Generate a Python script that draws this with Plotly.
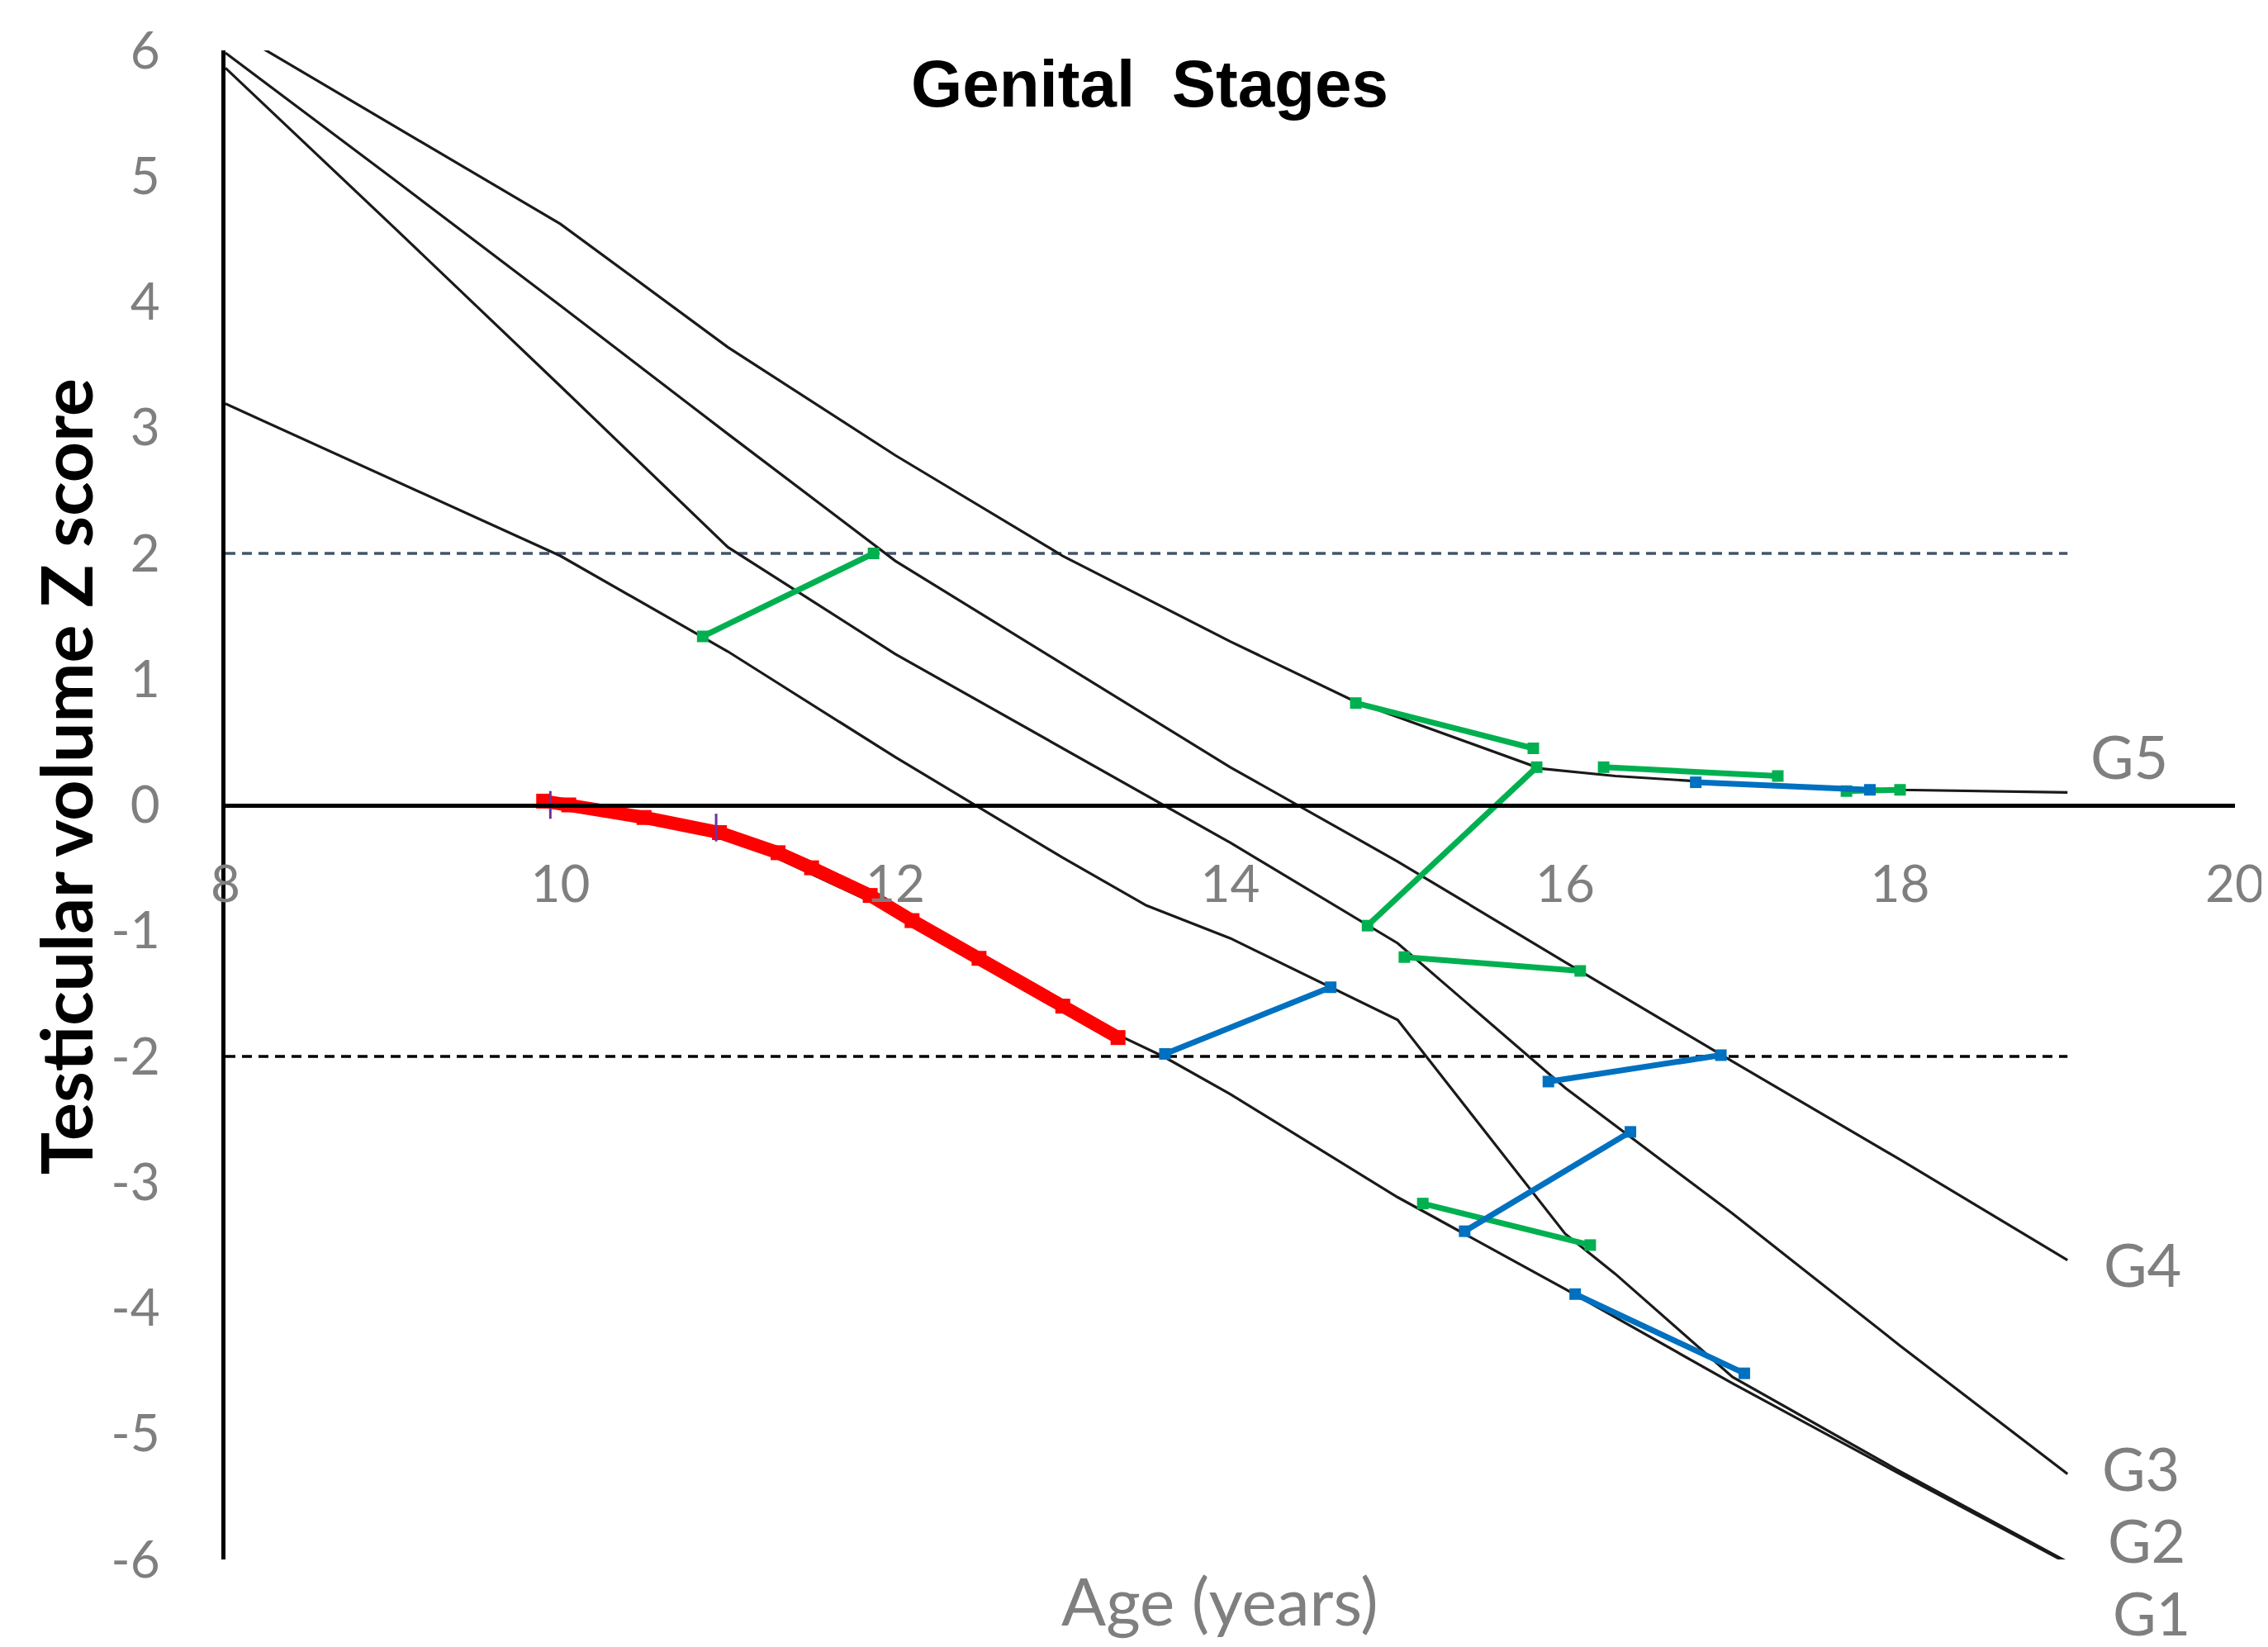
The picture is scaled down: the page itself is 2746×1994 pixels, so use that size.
import plotly.graph_objects as go

# ---- reference stage curves (age in years, testicular volume Z score) ----
ages_g5 = [8.0, 10.0, 11.0, 12.0, 13.0, 14.0, 14.75, 15.85, 16.3, 17.0, 18.0, 19.0]
z_g5 = [6.19, 4.62, 3.64, 2.78, 1.98, 1.3, 0.82, 0.29, 0.23, 0.17, 0.12, 0.10]

ages_g4 = [8, 9, 10, 11, 12, 13, 14, 15, 16, 17, 18, 19]
z_g4 = [5.98, 4.98, 3.97, 2.95, 1.94, 1.12, 0.3, -0.45, -1.25, -2.04, -2.82, -3.62]

ages_g3 = [8, 9, 10, 11, 12, 13, 14, 15, 16, 17, 18, 19]
z_g3 = [5.86, 4.6, 3.33, 2.05, 1.2, 0.45, -0.3, -1.1, -2.25, -3.25, -4.3, -5.32]

ages_g2 = [8, 10, 11, 12, 13, 13.5, 14, 14.6, 15, 16, 16.3, 17, 18, 19]
z_g2 = [3.19, 1.98, 1.22, 0.38, -0.42, -0.8, -1.06, -1.45, -1.71, -3.41, -3.73, -4.55, -5.3, -6.02]

ages_g1 = [10, 11, 12, 13, 13.6, 14, 15, 16, 17, 18, 19]
z_g1 = [0.0, -0.24, -0.86, -1.62, -2.0, -2.3, -3.12, -3.85, -4.6, -5.32, -6.03]

stage_labels = ["G5", "G4", "G3", "G2", "G1"]
stage_label_age = [19.37, 19.45, 19.44, 19.47, 19.5]
stage_label_z = [0.39, -3.65, -5.27, -5.84, -6.42]

# ---- reference limits (dashed) ----
limit_ages = [8, 19]
upper_limit = [2, 2]
lower_limit = [-2, -2]

# ---- patient trajectories ----
red_age = [9.9, 10.05, 10.5, 10.95, 11.3, 11.5, 11.85, 12.1, 12.5, 13.0, 13.33]
red_z = [0.03, 0.0, -0.1, -0.22, -0.38, -0.5, -0.72, -0.92, -1.22, -1.6, -1.85]

purple_age = [9.94, 10.93]
purple_z = [0.0, -0.18]

green_age_start = [10.85, 14.75, 14.82, 16.23, 17.68, 15.04, 15.15]
green_age_end = [11.87, 15.81, 15.83, 17.27, 18.0, 16.09, 16.15]
green_z_start = [1.34, 0.81, -0.96, 0.30, 0.11, -1.21, -3.17]
green_z_end = [2.0, 0.45, 0.30, 0.23, 0.12, -1.32, -3.50]

blue_age_start = [13.61, 15.9, 15.4, 16.06, 16.78]
blue_age_end = [14.6, 16.93, 16.39, 17.07, 17.82]
blue_z_start = [-1.98, -2.2, -3.39, -3.89, 0.18]
blue_z_end = [-1.45, -1.99, -2.6, -4.52, 0.12]

x_ticks = [8, 10, 12, 14, 16, 18, 20]
y_ticks = [6, 5, 4, 3, 2, 1, 0, -1, -2, -3, -4, -5, -6]

X_RANGE = [8, 20]
Y_RANGE = [-6, 6]

GRAY = "#7f7f7f"
CURVE = "#1a1a1a"


def segments(xs0, xs1, ys0, ys1):
    xs, ys = [], []
    for a, b, c, d in zip(xs0, xs1, ys0, ys1):
        xs += [a, b, None]
        ys += [c, d, None]
    return xs, ys


def to_paper_x(v):
    return (v - X_RANGE[0]) / (X_RANGE[1] - X_RANGE[0])


def to_paper_y(v):
    return (v - Y_RANGE[0]) / (Y_RANGE[1] - Y_RANGE[0])


fig = go.Figure()

# dashed limit lines
fig.add_trace(go.Scatter(x=limit_ages, y=upper_limit, mode="lines",
                         line=dict(color="#44546A", width=3.5, dash="12px,8px"),
                         hoverinfo="skip"))
fig.add_trace(go.Scatter(x=limit_ages, y=lower_limit, mode="lines",
                         line=dict(color="#000000", width=3.5, dash="12px,8px"),
                         hoverinfo="skip"))

# stage curves
for xs, ys in [(ages_g5, z_g5), (ages_g4, z_g4), (ages_g3, z_g3),
               (ages_g2, z_g2), (ages_g1, z_g1)]:
    fig.add_trace(go.Scatter(x=xs, y=ys, mode="lines",
                             line=dict(color=CURVE, width=3.2)))

# red trajectory
fig.add_trace(go.Scatter(x=red_age, y=red_z, mode="lines+markers",
                         line=dict(color="#FF0000", width=16),
                         marker=dict(color="#FF0000", symbol="square", size=18)))
fig.add_trace(go.Scatter(x=purple_age, y=purple_z, mode="markers",
                         marker=dict(symbol="line-ns", size=24,
                                     line=dict(color="#7030A0", width=3))))

# green trajectories
gx, gy = segments(green_age_start, green_age_end, green_z_start, green_z_end)
fig.add_trace(go.Scatter(x=gx, y=gy, mode="lines+markers",
                         line=dict(color="#00B050", width=7),
                         marker=dict(color="#00B050", symbol="square", size=14)))

# blue trajectories
bx, by = segments(blue_age_start, blue_age_end, blue_z_start, blue_z_end)
fig.add_trace(go.Scatter(x=bx, y=by, mode="lines+markers",
                         line=dict(color="#0070C0", width=7),
                         marker=dict(color="#0070C0", symbol="square", size=14)))

annotations = []
for lab, ax_, az in zip(stage_labels, stage_label_age, stage_label_z):
    annotations.append(dict(x=to_paper_x(ax_), y=to_paper_y(az),
                            xref="paper", yref="paper", text=lab,
                            showarrow=False, xanchor="center", yanchor="middle",
                            font=dict(family="Lato", size=72, color=GRAY)))

annotations.append(dict(x=0.46, y=0.978, xref="paper", yref="paper",
                        text="<b>Genital  Stages</b>", showarrow=False,
                        xanchor="center", yanchor="middle",
                        font=dict(family="Liberation Sans", size=80, color="#000000")))
annotations.append(dict(x=-0.08, y=0.519, xref="paper", yref="paper",
                        text="<b>Testicular volume Z score</b>", showarrow=False,
                        textangle=-90, xanchor="center", yanchor="middle",
                        font=dict(family="Lato", size=86, color="#000000")))
annotations.append(dict(x=0.4947, y=-0.027, xref="paper", yref="paper",
                        text="Age (years)", showarrow=False,
                        xanchor="center", yanchor="middle",
                        font=dict(family="Lato", size=80, color=GRAY)))

fig.update_layout(
    width=2746, height=1994,
    margin=dict(l=265, r=45, t=53, b=114),
    paper_bgcolor="white", plot_bgcolor="white",
    showlegend=False,
    annotations=annotations,
    xaxis=dict(range=X_RANGE, tickvals=x_ticks, ticktext=[str(v) for v in x_ticks],
               anchor="free", position=0.5, showline=True, linecolor="#000000",
               linewidth=5, showgrid=False, zeroline=False, ticks="",
               ticklabelstandoff=40,
               tickfont=dict(family="Lato", size=62, color=GRAY)),
    yaxis=dict(range=Y_RANGE, domain=[0, 1], tickvals=y_ticks,
               ticktext=[str(v) for v in y_ticks],
               showline=True, linecolor="#000000", linewidth=5,
               showgrid=False, zeroline=False, ticks="",
               ticklabelstandoff=62,
               tickfont=dict(family="Lato", size=62, color=GRAY)),
)

fig.write_html("out.html")
